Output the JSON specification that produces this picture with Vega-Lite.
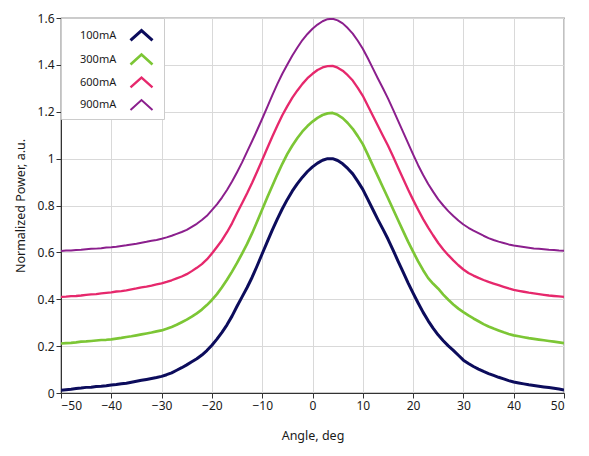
{
  "$schema": "https://vega.github.io/schema/vega-lite/v6.json",
  "autosize": "none",
  "width": 503,
  "height": 375,
  "padding": {"left": 61, "top": 18, "right": 25, "bottom": 63},
  "background": "white",
  "config": {
    "font": "Noto Sans",
    "view": {"stroke": "#333333", "strokeWidth": 1.2},
    "axis": {
      "gridColor": "#d9d9d9",
      "gridWidth": 1,
      "domainColor": "#333333",
      "tickColor": "#333333",
      "tickSize": 5,
      "labelFontSize": 12,
      "labelColor": "#1a1a1a",
      "titleFontSize": 12.5,
      "titleFontWeight": "normal",
      "titleColor": "#1a1a1a"
    }
  },
  "data": {
    "values": [
      {"a":-50,"100mA":0.012,"300mA":0.211,"600mA":0.410,"900mA":0.606},
      {"a":-49,"100mA":0.014,"300mA":0.213,"600mA":0.411,"900mA":0.608},
      {"a":-48,"100mA":0.016,"300mA":0.214,"600mA":0.413,"900mA":0.608},
      {"a":-47,"100mA":0.019,"300mA":0.216,"600mA":0.414,"900mA":0.610},
      {"a":-46,"100mA":0.021,"300mA":0.219,"600mA":0.416,"900mA":0.611},
      {"a":-45,"100mA":0.024,"300mA":0.220,"600mA":0.419,"900mA":0.613},
      {"a":-44,"100mA":0.025,"300mA":0.222,"600mA":0.421,"900mA":0.615},
      {"a":-43,"100mA":0.028,"300mA":0.224,"600mA":0.422,"900mA":0.616},
      {"a":-42,"100mA":0.029,"300mA":0.226,"600mA":0.425,"900mA":0.618},
      {"a":-41,"100mA":0.031,"300mA":0.227,"600mA":0.427,"900mA":0.621},
      {"a":-40,"100mA":0.034,"300mA":0.229,"600mA":0.429,"900mA":0.622},
      {"a":-39,"100mA":0.036,"300mA":0.232,"600mA":0.433,"900mA":0.624},
      {"a":-38,"100mA":0.039,"300mA":0.235,"600mA":0.435,"900mA":0.627},
      {"a":-37,"100mA":0.042,"300mA":0.239,"600mA":0.438,"900mA":0.630},
      {"a":-36,"100mA":0.046,"300mA":0.242,"600mA":0.442,"900mA":0.634},
      {"a":-35,"100mA":0.050,"300mA":0.246,"600mA":0.446,"900mA":0.637},
      {"a":-34,"100mA":0.054,"300mA":0.250,"600mA":0.451,"900mA":0.641},
      {"a":-33,"100mA":0.058,"300mA":0.254,"600mA":0.454,"900mA":0.645},
      {"a":-32,"100mA":0.062,"300mA":0.258,"600mA":0.458,"900mA":0.650},
      {"a":-31,"100mA":0.066,"300mA":0.263,"600mA":0.463,"900mA":0.653},
      {"a":-30,"100mA":0.071,"300mA":0.267,"600mA":0.468,"900mA":0.658},
      {"a":-29,"100mA":0.078,"300mA":0.274,"600mA":0.474,"900mA":0.664},
      {"a":-28,"100mA":0.086,"300mA":0.282,"600mA":0.481,"900mA":0.671},
      {"a":-27,"100mA":0.097,"300mA":0.291,"600mA":0.489,"900mA":0.679},
      {"a":-26,"100mA":0.108,"300mA":0.302,"600mA":0.497,"900mA":0.687},
      {"a":-25,"100mA":0.120,"300mA":0.313,"600mA":0.507,"900mA":0.696},
      {"a":-24,"100mA":0.133,"300mA":0.326,"600mA":0.520,"900mA":0.709},
      {"a":-23,"100mA":0.146,"300mA":0.340,"600mA":0.534,"900mA":0.722},
      {"a":-22,"100mA":0.162,"300mA":0.356,"600mA":0.550,"900mA":0.738},
      {"a":-21,"100mA":0.181,"300mA":0.375,"600mA":0.570,"900mA":0.756},
      {"a":-20,"100mA":0.204,"300mA":0.397,"600mA":0.595,"900mA":0.780},
      {"a":-19,"100mA":0.230,"300mA":0.422,"600mA":0.623,"900mA":0.805},
      {"a":-18,"100mA":0.259,"300mA":0.451,"600mA":0.652,"900mA":0.834},
      {"a":-17,"100mA":0.291,"300mA":0.483,"600mA":0.686,"900mA":0.866},
      {"a":-16,"100mA":0.328,"300mA":0.518,"600mA":0.724,"900mA":0.902},
      {"a":-15,"100mA":0.370,"300mA":0.555,"600mA":0.768,"900mA":0.942},
      {"a":-14,"100mA":0.410,"300mA":0.595,"600mA":0.810,"900mA":0.984},
      {"a":-13,"100mA":0.450,"300mA":0.636,"600mA":0.852,"900mA":1.030},
      {"a":-12,"100mA":0.494,"300mA":0.682,"600mA":0.897,"900mA":1.075},
      {"a":-11,"100mA":0.543,"300mA":0.732,"600mA":0.945,"900mA":1.122},
      {"a":-10,"100mA":0.594,"300mA":0.783,"600mA":0.994,"900mA":1.170},
      {"a":-9,"100mA":0.645,"300mA":0.834,"600mA":1.044,"900mA":1.220},
      {"a":-8,"100mA":0.695,"300mA":0.883,"600mA":1.093,"900mA":1.270},
      {"a":-7,"100mA":0.742,"300mA":0.932,"600mA":1.140,"900mA":1.318},
      {"a":-6,"100mA":0.786,"300mA":0.978,"600mA":1.185,"900mA":1.362},
      {"a":-5,"100mA":0.826,"300mA":1.020,"600mA":1.224,"900mA":1.402},
      {"a":-4,"100mA":0.862,"300mA":1.056,"600mA":1.260,"900mA":1.440},
      {"a":-3,"100mA":0.893,"300mA":1.088,"600mA":1.291,"900mA":1.474},
      {"a":-2,"100mA":0.921,"300mA":1.116,"600mA":1.319,"900mA":1.506},
      {"a":-1,"100mA":0.945,"300mA":1.139,"600mA":1.343,"900mA":1.532},
      {"a":0,"100mA":0.965,"300mA":1.158,"600mA":1.362,"900mA":1.554},
      {"a":1,"100mA":0.981,"300mA":1.174,"600mA":1.378,"900mA":1.572},
      {"a":2,"100mA":0.993,"300mA":1.186,"600mA":1.389,"900mA":1.586},
      {"a":3,"100mA":1.000,"300mA":1.193,"600mA":1.395,"900mA":1.595},
      {"a":4,"100mA":1.000,"300mA":1.195,"600mA":1.396,"900mA":1.597},
      {"a":5,"100mA":0.992,"300mA":1.187,"600mA":1.388,"900mA":1.590},
      {"a":6,"100mA":0.978,"300mA":1.173,"600mA":1.375,"900mA":1.577},
      {"a":7,"100mA":0.958,"300mA":1.152,"600mA":1.356,"900mA":1.557},
      {"a":8,"100mA":0.935,"300mA":1.127,"600mA":1.333,"900mA":1.533},
      {"a":9,"100mA":0.903,"300mA":1.096,"600mA":1.302,"900mA":1.503},
      {"a":10,"100mA":0.869,"300mA":1.062,"600mA":1.268,"900mA":1.469},
      {"a":11,"100mA":0.826,"300mA":1.017,"600mA":1.226,"900mA":1.428},
      {"a":12,"100mA":0.783,"300mA":0.970,"600mA":1.183,"900mA":1.385},
      {"a":13,"100mA":0.740,"300mA":0.924,"600mA":1.140,"900mA":1.342},
      {"a":14,"100mA":0.699,"300mA":0.878,"600mA":1.098,"900mA":1.300},
      {"a":15,"100mA":0.657,"300mA":0.832,"600mA":1.056,"900mA":1.257},
      {"a":16,"100mA":0.611,"300mA":0.785,"600mA":1.010,"900mA":1.210},
      {"a":17,"100mA":0.563,"300mA":0.738,"600mA":0.962,"900mA":1.162},
      {"a":18,"100mA":0.517,"300mA":0.692,"600mA":0.915,"900mA":1.114},
      {"a":19,"100mA":0.470,"300mA":0.646,"600mA":0.868,"900mA":1.066},
      {"a":20,"100mA":0.426,"300mA":0.603,"600mA":0.824,"900mA":1.018},
      {"a":21,"100mA":0.384,"300mA":0.562,"600mA":0.782,"900mA":0.972},
      {"a":22,"100mA":0.344,"300mA":0.524,"600mA":0.742,"900mA":0.930},
      {"a":23,"100mA":0.308,"300mA":0.490,"600mA":0.706,"900mA":0.892},
      {"a":24,"100mA":0.276,"300mA":0.466,"600mA":0.672,"900mA":0.858},
      {"a":25,"100mA":0.247,"300mA":0.445,"600mA":0.640,"900mA":0.826},
      {"a":26,"100mA":0.223,"300mA":0.420,"600mA":0.612,"900mA":0.800},
      {"a":27,"100mA":0.201,"300mA":0.398,"600mA":0.588,"900mA":0.776},
      {"a":28,"100mA":0.182,"300mA":0.378,"600mA":0.566,"900mA":0.755},
      {"a":29,"100mA":0.161,"300mA":0.360,"600mA":0.545,"900mA":0.736},
      {"a":30,"100mA":0.140,"300mA":0.345,"600mA":0.527,"900mA":0.719},
      {"a":31,"100mA":0.126,"300mA":0.331,"600mA":0.512,"900mA":0.705},
      {"a":32,"100mA":0.113,"300mA":0.318,"600mA":0.501,"900mA":0.693},
      {"a":33,"100mA":0.102,"300mA":0.306,"600mA":0.491,"900mA":0.682},
      {"a":34,"100mA":0.092,"300mA":0.294,"600mA":0.482,"900mA":0.671},
      {"a":35,"100mA":0.083,"300mA":0.284,"600mA":0.474,"900mA":0.661},
      {"a":36,"100mA":0.075,"300mA":0.275,"600mA":0.467,"900mA":0.653},
      {"a":37,"100mA":0.067,"300mA":0.267,"600mA":0.460,"900mA":0.646},
      {"a":38,"100mA":0.060,"300mA":0.259,"600mA":0.453,"900mA":0.640},
      {"a":39,"100mA":0.053,"300mA":0.252,"600mA":0.446,"900mA":0.634},
      {"a":40,"100mA":0.047,"300mA":0.246,"600mA":0.440,"900mA":0.629},
      {"a":41,"100mA":0.043,"300mA":0.242,"600mA":0.436,"900mA":0.626},
      {"a":42,"100mA":0.039,"300mA":0.238,"600mA":0.432,"900mA":0.623},
      {"a":43,"100mA":0.035,"300mA":0.234,"600mA":0.428,"900mA":0.620},
      {"a":44,"100mA":0.032,"300mA":0.231,"600mA":0.425,"900mA":0.617},
      {"a":45,"100mA":0.029,"300mA":0.228,"600mA":0.422,"900mA":0.615},
      {"a":46,"100mA":0.026,"300mA":0.225,"600mA":0.419,"900mA":0.613},
      {"a":47,"100mA":0.023,"300mA":0.222,"600mA":0.416,"900mA":0.611},
      {"a":48,"100mA":0.020,"300mA":0.219,"600mA":0.414,"900mA":0.610},
      {"a":49,"100mA":0.017,"300mA":0.216,"600mA":0.412,"900mA":0.608},
      {"a":50,"100mA":0.013,"300mA":0.213,"600mA":0.410,"900mA":0.607}
    ]
  },
  "transform": [
    {"fold": ["100mA", "300mA", "600mA", "900mA"], "as": ["series", "power"]}
  ],
  "mark": {"type": "line", "strokeJoin": "round", "clip": true},
  "encoding": {
    "x": {
      "field": "a",
      "type": "quantitative",
      "title": "Angle, deg",
      "scale": {"domain": [-50, 50], "nice": false, "zero": false},
      "axis": {"values": [-50, -40, -30, -20, -10, 0, 10, 20, 30, 40, 50], "labelPadding": 2, "titlePadding": 18}
    },
    "y": {
      "field": "power",
      "type": "quantitative",
      "title": "Normalized Power, a.u.",
      "scale": {"domain": [0, 1.6], "nice": false},
      "axis": {"values": [0, 0.2, 0.4, 0.6, 0.8, 1, 1.2, 1.4, 1.6], "format": "~g", "labelPadding": 2, "titlePadding": 10}
    },
    "color": {
      "field": "series",
      "type": "nominal",
      "scale": {"domain": ["100mA", "300mA", "600mA", "900mA"], "range": ["#0c0c5c", "#7cc635", "#e6286c", "#8b1f8d"]},
      "legend": {
        "title": null,
        "orient": "none",
        "legendX": 0,
        "legendY": 0,
        "fillColor": "white",
        "strokeColor": "#cccccc",
        "padding": 5,
        "rowPadding": 0,
        "labelFontSize": 11,
        "labelColor": "#1a1a1a",
        "labelAlign": "left",
        "labelOffset": -74,
        "symbolOffset": 63,
        "symbolType": "M-1,0.45L0,-0.45L1,0.45",
        "symbolSize": 484,
        "symbolStrokeWidth": 2.5,
        "symbolFillColor": "transparent"
      }
    },
    "strokeWidth": {
      "field": "series",
      "type": "nominal",
      "scale": {"domain": ["100mA", "300mA", "600mA", "900mA"], "range": [3, 2, 2, 2]},
      "legend": null
    }
  }
}
